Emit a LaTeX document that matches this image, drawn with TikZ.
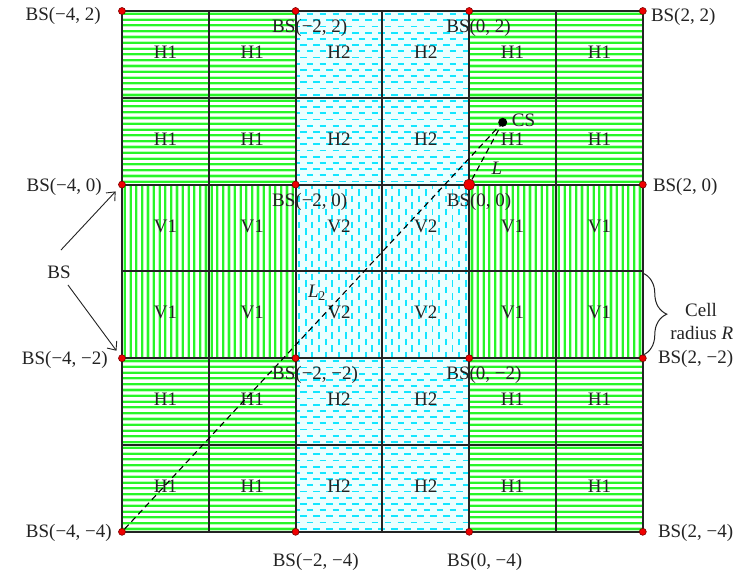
\documentclass[tikz,border=0pt]{standalone}
\usepackage{fontspec}
\setmainfont{Liberation Serif}
\usetikzlibrary{arrows.meta,decorations.pathreplacing}

\definecolor{stripegreen}{RGB}{40,245,40}
\definecolor{halogreen}{RGB}{185,255,185}
\definecolor{dashcyan}{RGB}{20,230,255}
\definecolor{palecyan}{RGB}{236,255,255}
\definecolor{dotred}{RGB}{240,0,0}
\definecolor{dotrim}{RGB}{120,0,0}
\definecolor{ink}{RGB}{35,35,35}

\begin{document}
\begin{tikzpicture}[x=86.8pt,y=86.8pt,
  every node/.style={font=\fontsize{19}{23}\selectfont, text=ink, inner sep=0pt},
  hstripe/.style={draw=stripegreen, line width=2pt, preaction={draw=halogreen, line width=3.2pt}},
  hdash/.style={draw=dashcyan, line width=1.9pt, dash pattern=on 6.5pt off 6.5pt},
  vdash/.style={draw=dashcyan, line width=1.9pt, dash pattern=on 6.5pt off 6.5pt},
  gridline/.style={draw=ink, line width=1.9pt},
  bsdot/.style={circle, fill=dotred, draw=dotrim, line width=0.6pt, minimum size=7pt},
  bigdot/.style={bsdot, minimum size=11pt},
  csdot/.style={circle, fill=black, minimum size=9pt},
  dashline/.style={draw=black, line width=1.1pt, dash pattern=on 6pt off 4pt},
  bsarrow/.style={draw=ink, line width=0.9pt, -{Straight Barb[length=7pt,width=12pt]}, shorten >=5.5pt},
  celltext/.style={yshift=2pt},
  bracestyle/.style={draw=ink, line width=1pt, decorate, decoration={brace, amplitude=24pt}}
]
% page frame
\useasboundingbox (-5.4055,-4.4977) rectangle (3.1198,2.1267);
\fill[white] (-5.4055,-4.4977) rectangle (3.1198,2.1267);

% light cyan ground of the middle column
\fill[palecyan] (-2,-4) rectangle (0,2);

% horizontal green stripes (H1 cells)
\begin{scope}
  \clip (-4,0) rectangle (-2,2) (0,0) rectangle (2,2)
        (-4,-4) rectangle (-2,-2) (0,-4) rectangle (2,-2);
  \foreach \k in {0,...,89}
    \draw[hstripe] (-4,{2-(\k+0.5)/15}) -- (2,{2-(\k+0.5)/15});
\end{scope}

% vertical green stripes (V1 cells)
\begin{scope}
  \clip (-4,-2) rectangle (-2,0) (0,-2) rectangle (2,0);
  \foreach \k in {0,...,89}
    \draw[hstripe] ({-4+(\k+0.5)/15},0) -- ({-4+(\k+0.5)/15},-2);
\end{scope}

% horizontal cyan dashes (H2 cells)
\begin{scope}
  \clip (-2,0) rectangle (0,2) (-2,-4) rectangle (0,-2);
  \foreach \k in {0,...,83}{
    \pgfmathsetmacro\ph{mod(\k,2)*6.5+2}
    \draw[hdash, dash phase=\ph pt] (-2,{2-(\k+0.5)/14}) -- (0,{2-(\k+0.5)/14});
  }
\end{scope}

% vertical cyan dashes (V2 cells)
\begin{scope}
  \clip (-2,-2) rectangle (0,0);
  \foreach \k in {0,...,25}{
    \pgfmathsetmacro\ph{mod(\k,2)*6.5+2}
    \draw[vdash, dash phase=\ph pt] ({-2+(\k+0.5)/13},0) -- ({-2+(\k+0.5)/13},-2);
  }
\end{scope}

% cell grid
\draw[gridline] (-4,-4) grid[step=1] (2,2);

% cell names
\foreach \y/\a/\b [count=\r] in {1.5/H1/H2, 0.5/H1/H2, -0.5/V1/V2, -1.5/V1/V2, -2.5/H1/H2, -3.5/H1/H2}{
  \foreach \x/\t [count=\c] in {-3.5/\a, -2.5/\a, -1.5/\b, -0.5/\b, 0.5/\a, 1.5/\a}
    \node[celltext] (cell\r\c) at (\x,\y) {\t};
}

% base stations
\node[bsdot] (dm4p2) at (-4,2) {};
\node[bsdot] (dm2p2) at (-2,2) {};
\node[bsdot] (dzp2)  at (0,2) {};
\node[bsdot] (dp2p2) at (2,2) {};
\node[bsdot] (dm4z)  at (-4,0) {};
\node[bsdot] (dm2z)  at (-2,0) {};
\node[bigdot] (dzz)  at (0,0) {};
\node[bsdot] (dp2z)  at (2,0) {};
\node[bsdot] (dm4m2) at (-4,-2) {};
\node[bsdot] (dm2m2) at (-2,-2) {};
\node[bsdot] (dzm2)  at (0,-2) {};
\node[bsdot] (dp2m2) at (2,-2) {};
\node[bsdot] (dm4m4) at (-4,-4) {};
\node[bsdot] (dm2m4) at (-2,-4) {};
\node[bsdot] (dzm4)  at (0,-4) {};
\node[bsdot] (dp2m4) at (2,-4) {};

% client station and its links
\node[csdot] (cs) at (0.386,0.718) {};
\draw[dashline] (dm4m4) -- (cs);
\draw[dashline] (dzz) -- (cs);
\node[anchor=base west, xshift=9pt, yshift=-4.7pt] (cslab) at (cs.center) {CS};
\node (llab) at (0.320,0.191) {\textit{L}};
\node (l2lab) at (-1.753,-1.249) {\textit{L}\textsubscript{2}};

% base station labels
\node[anchor=base east, xshift=-21pt, yshift=-9.6pt] (tm4p2) at (dm4p2.center) {BS(−4, 2)};
\node[anchor=base west, xshift=-23.6pt, yshift=-21.5pt] (tm2p2) at (dm2p2.center) {BS(−2, 2)};
\node[anchor=base west, xshift=-23pt, yshift=-21.5pt] (tzp2) at (dzp2.center) {BS(0, 2)};
\node[anchor=base west, xshift=8pt, yshift=-10.6pt] (tp2p2) at (dp2p2.center) {BS(2, 2)};
\node[anchor=base east, xshift=-20pt, yshift=-7pt] (tm4z) at (dm4z.center) {BS(−4, 0)};
\node[anchor=base west, xshift=-23.6pt, yshift=-21.5pt] (tm2z) at (dm2z.center) {BS(−2, 0)};
\node[anchor=base west, xshift=-22.5pt, yshift=-21.5pt] (tzz) at (dzz.center) {BS(0, 0)};
\node[anchor=base west, xshift=10pt, yshift=-7pt] (tp2z) at (dp2z.center) {BS(2, 0)};
\node[anchor=base east, xshift=-14pt, yshift=-6.4pt] (tm4m2) at (dm4m2.center) {BS(−4, −2)};
\node[anchor=base west, xshift=-23.6pt, yshift=-21.5pt] (tm2m2) at (dm2m2.center) {BS(−2, −2)};
\node[anchor=base west, xshift=-23pt, yshift=-21.5pt] (tzm2) at (dzm2.center) {BS(0, −2)};
\node[anchor=base west, xshift=15pt, yshift=-4.8pt] (tp2m2) at (dp2m2.center) {BS(2, −2)};
\node[anchor=base east, xshift=-10pt, yshift=-5.2pt] (tm4m4) at (dm4m4.center) {BS(−4, −4)};
\node[anchor=base west, xshift=-23pt, yshift=-34.2pt] (tm2m4) at (dm2m4.center) {BS(−2, −4)};
\node[anchor=base west, xshift=-22.2pt, yshift=-34.2pt] (tzm4) at (dzm4.center) {BS(0, −4)};
\node[anchor=base west, xshift=15pt, yshift=-5.2pt] (tp2m4) at (dp2m4.center) {BS(2, −4)};

% "BS" pointer
\node (bsnote) at (-4.726,-1.007) {BS};
\draw[bsarrow] ([shift={(2pt,22pt)}]bsnote.center) -- (dm4z);
\draw[bsarrow] ([shift={(9pt,-13pt)}]bsnote.center) -- (dm4m2);

% cell radius brace
\coordinate (braceA) at (2,-1.02);
\coordinate (braceB) at (2,-1.965);
\draw[bracestyle] (braceA) -- (braceB);
\node[anchor=base] (celltxt) at (2.671,-1.525) {Cell};
\node[anchor=base] (radtxt) at (2.679,-1.790) {radius \textit{R}};
\end{tikzpicture}
\end{document}
